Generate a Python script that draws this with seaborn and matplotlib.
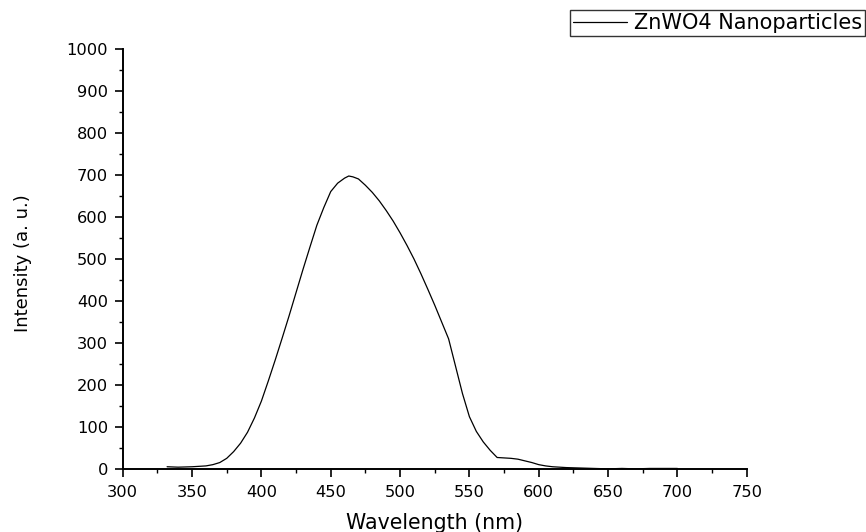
import matplotlib
matplotlib.use("Agg")
import matplotlib.pyplot as plt
import seaborn as sns
import pandas as pd
from matplotlib.ticker import MultipleLocator

wavelength = [332, 340, 350, 360, 365, 370, 375, 380, 385, 390, 395, 400, 405, 410, 415, 420,
              425, 430, 435, 440, 445, 450, 455, 460, 463, 466, 470, 475, 480, 485, 490, 495,
              500, 505, 510, 515, 520, 525, 530, 535, 540, 545, 550, 555, 560, 565, 570, 575,
              580, 585, 590, 595, 600, 605, 610, 620, 630, 640, 650, 660, 670, 680, 690, 700]
intensity = [6, 5, 6, 8, 11, 16, 26, 42, 62, 88, 122, 162, 210, 260, 312, 365,
             420, 475, 528, 580, 622, 660, 680, 692, 697, 695, 690, 675, 658, 638, 615, 590,
             562, 532, 500, 465, 428, 390, 350, 310, 245, 180, 125, 90, 65, 45, 28, 27,
             26, 24, 20, 16, 11, 8, 6, 4, 3, 2, 1, 2, 1, 2, 2, 2]

df = pd.DataFrame({"Wavelength (nm)": wavelength, "Intensity (a. u.)": intensity})

sns.set_theme(style="ticks")
plt.rcParams['font.family'] = ['DejaVu Sans']
plt.rcParams['text.color'] = 'black'
plt.rcParams['axes.labelcolor'] = 'black'
plt.rcParams['xtick.color'] = 'black'
plt.rcParams['ytick.color'] = 'black'

fig = plt.figure(figsize=(8.66, 5.32), dpi=100)
ax = fig.add_axes([0.1417, 0.1179, 0.7206, 0.7909])
sns.lineplot(data=df, x="Wavelength (nm)", y="Intensity (a. u.)", ax=ax,
             color="black", linewidth=0.9, label="ZnWO4 Nanoparticles")

ax.set_xlim(300, 750)
ax.set_ylim(0, 1000)
ax.xaxis.set_major_locator(MultipleLocator(50))
ax.xaxis.set_minor_locator(MultipleLocator(25))
ax.yaxis.set_major_locator(MultipleLocator(100))
ax.yaxis.set_minor_locator(MultipleLocator(50))
for s in ["top", "right"]:
    ax.spines[s].set_visible(False)
for s in ["left", "bottom"]:
    ax.spines[s].set_linewidth(1.4)
    ax.spines[s].set_color("black")
ax.tick_params(which="major", direction="out", length=6, width=1.2, labelsize=11.7,
               colors="black", labelcolor="black")
ax.tick_params(axis="x", which="major", pad=5.5)
ax.tick_params(axis="y", which="major", pad=4.5)
ax.tick_params(which="minor", direction="out", length=2.8, width=1.0, colors="black")
ax.set_xlabel("Wavelength (nm)", fontsize=14.8, labelpad=9, color="black")
ax.set_ylabel("Intensity (a. u.)", fontsize=13, color="black")
ax.yaxis.set_label_coords(-0.1458, 0.49)

leg = ax.legend(loc="upper right", bbox_to_anchor=(0.9988, 0.9812),
                bbox_transform=fig.transFigure, frameon=True, fancybox=False,
                fontsize=15, handlelength=2.6, borderpad=0.15, borderaxespad=0,
                handletextpad=0.3)
leg.get_frame().set_edgecolor("black")
leg.get_frame().set_linewidth(1.0)
for t in leg.get_texts():
    t.set_color("black")
for line in leg.get_lines():
    line.set_linewidth(0.9)

fig.savefig("out.png", dpi=100)
